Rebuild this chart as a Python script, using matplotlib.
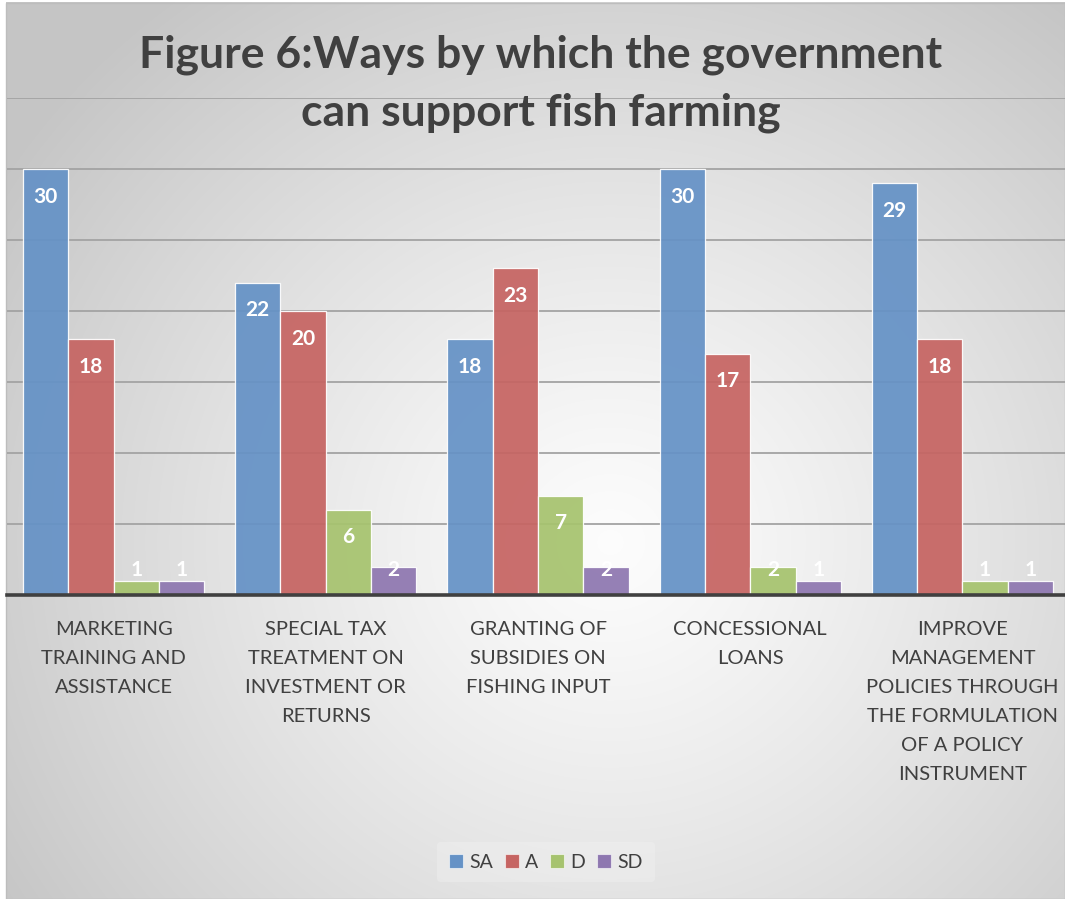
import numpy as np
import matplotlib
matplotlib.use("Agg")
import matplotlib.pyplot as plt
from matplotlib.patches import Patch, Rectangle

plt.rcParams["font.family"] = ["Lato", "DejaVu Sans"]

# ---- data ----
categories = [
    "MARKETING\nTRAINING AND\nASSISTANCE",
    "SPECIAL TAX\nTREATMENT ON\nINVESTMENT OR\nRETURNS",
    "GRANTING OF\nSUBSIDIES ON\nFISHING INPUT",
    "CONCESSIONAL\nLOANS",
    "IMPROVE\nMANAGEMENT\nPOLICIES THROUGH\nTHE FORMULATION\nOF A POLICY\nINSTRUMENT",
]
series_names = ["SA", "A", "D", "SD"]
sa = [30, 22, 18, 30, 29]
a = [18, 20, 23, 17, 18]
d = [1, 6, 7, 2, 1]
sd = [1, 2, 2, 1, 1]
series_values = [sa, a, d, sd]
colors = ["#6592c6", "#c66462", "#a6c36e", "#8e77b0"]
title = "Figure 6:Ways by which the government\ncan support fish farming"

W, H = 1065, 899
fig = plt.figure(figsize=(W / 100, H / 100), dpi=100)
fig.patch.set_facecolor("white")

# ---- radial gradient chart background ----
bg = fig.add_axes([6 / W, 0, 1 - 6 / W, 1 - 2 / H], zorder=0)
yy, xx = np.mgrid[0:897, 6:1065]
cx, cy = 610, 540
r = np.sqrt(((xx - cx) / 1.0) ** 2 + ((yy - cy) / 0.95) ** 2)
t = np.clip(r / 720.0, 0, 1) ** 1.2
light, dark = 0.99, 0.775
img = light - (light - dark) * t
bg.imshow(np.dstack([img, img, img]), aspect="auto", interpolation="bilinear",
          extent=[0, 1, 0, 1])
bg.set_axis_off()
fig.patches.append(Rectangle((6 / W, 0), 1 - 6 / W, 1 - 2.5 / H, transform=fig.transFigure,
                             fill=False, edgecolor="#bdbdbd", lw=1.0, zorder=1))

# ---- plot area ----
left_px, right_px = 7.4, 1068.6
base_px, top_px = 595, 98
ax = fig.add_axes([left_px / W, 1 - base_px / H, (right_px - left_px) / W,
                   (base_px - top_px) / H], zorder=2)
ax.patch.set_alpha(0)
ax.set_xlim(-0.5, len(categories) - 0.5)
ax.set_ylim(0, 35)

for g in range(5, 36, 5):
    ax.axhline(g, color="#a3a3a3", lw=1.3, zorder=1)

n = len(series_names)
bw = 0.2134
x = np.arange(len(categories))
for k, (name, vals, col) in enumerate(zip(series_names, series_values, colors)):
    pos = x + (k - (n - 1) / 2) * bw
    ax.bar(pos, vals, width=bw, color=col, alpha=0.93, edgecolor=(1, 1, 1, 0.55),
           linewidth=0.9, zorder=2, label=name)
    for px_, v in zip(pos, vals):
        ax.text(px_, max(v - 1.95, 1.75), str(v), ha="center", va="center",
                color="white", fontsize=15, fontweight="bold", zorder=4)

for s in ["left", "right", "top"]:
    ax.spines[s].set_visible(False)
ax.spines["bottom"].set_color("#404040")
ax.spines["bottom"].set_linewidth(2.6)
ax.spines["bottom"].set_zorder(3)
ax.set_yticks([])
ax.set_xticks(x)
ax.set_xticklabels(categories, fontsize=14.5, color="#404040", linespacing=1.86,
                   multialignment="center")
ax.tick_params(axis="x", length=0, pad=18.5)

# ---- title ----
fig.text(541 / W, 1 - 84 / H, title, ha="center", va="center", fontsize=32,
         fontweight="bold", color="#404040", linespacing=1.54, zorder=5)

# ---- legend ----
handles = [Patch(facecolor=c, edgecolor=(1, 1, 1, 0.6), linewidth=0.8, label=nm)
           for c, nm in zip(colors, series_names)]
leg = fig.legend(handles=handles, loc="center", bbox_to_anchor=(546 / W, 1 - 862 / H),
                 ncol=4, frameon=True, fontsize=14, handlelength=0.7, handleheight=0.7,
                 handletextpad=0.35, columnspacing=0.6, borderpad=0.6)
leg.get_frame().set_facecolor("#f4f4f4")
leg.get_frame().set_alpha(0.35)
leg.get_frame().set_edgecolor("none")
for tx in leg.get_texts():
    tx.set_color("#404040")

fig.savefig("out.png", dpi=100)
